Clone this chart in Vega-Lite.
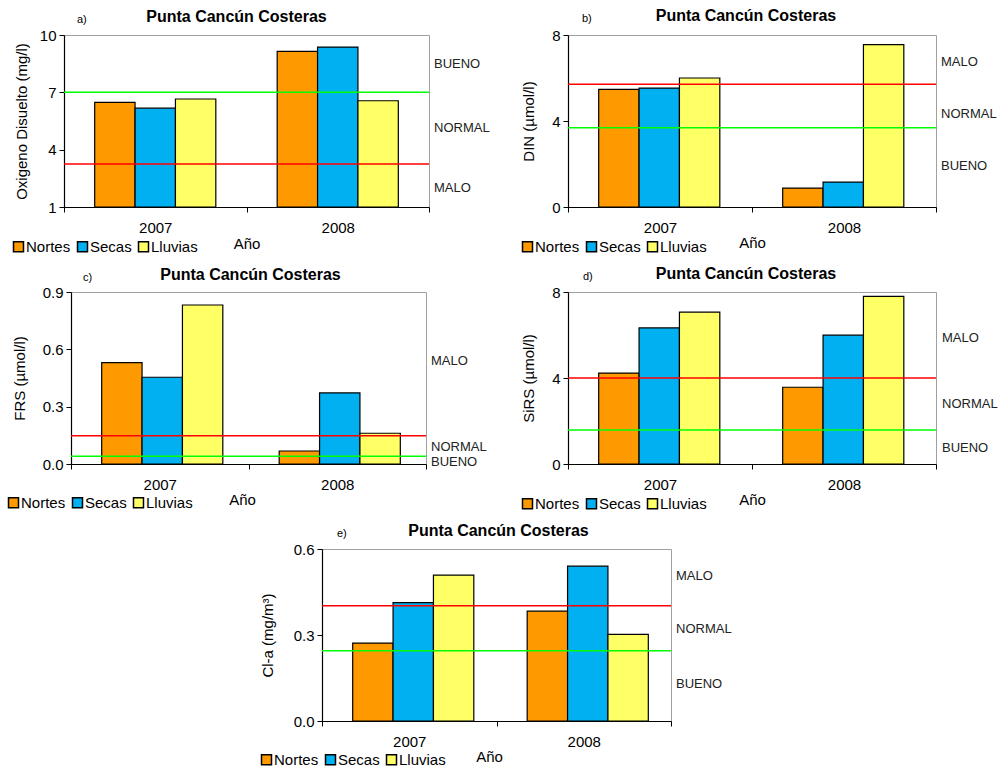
{
  "$schema": "https://vega.github.io/schema/vega-lite/v6.json",
  "padding": {"left": 4, "top": 7, "right": 0, "bottom": 0},
  "spacing": 9,
  "resolve": {"scale": {"color": "independent"}, "legend": {"color": "independent"}},
  "datasets": {
    "a_bars": [
      {"year": "2007", "season": "Nortes", "value": 6.47},
      {"year": "2007", "season": "Secas", "value": 6.17},
      {"year": "2007", "season": "Lluvias", "value": 6.65},
      {"year": "2008", "season": "Nortes", "value": 9.14},
      {"year": "2008", "season": "Secas", "value": 9.37},
      {"year": "2008", "season": "Lluvias", "value": 6.56}
    ],
    "a_rules": [{"v": 7.0, "c": "#00FF00"}, {"v": 3.25, "c": "#FF0000"}],
    "a_zones": [{"label": "BUENO", "v": 8.5}, {"label": "NORMAL", "v": 5.15}, {"label": "MALO", "v": 2.0}],
    "b_bars": [
      {"year": "2007", "season": "Nortes", "value": 5.47},
      {"year": "2007", "season": "Secas", "value": 5.53},
      {"year": "2007", "season": "Lluvias", "value": 6.0},
      {"year": "2008", "season": "Nortes", "value": 0.88},
      {"year": "2008", "season": "Secas", "value": 1.16},
      {"year": "2008", "season": "Lluvias", "value": 7.55}
    ],
    "b_rules": [{"v": 3.69, "c": "#00FF00"}, {"v": 5.71, "c": "#FF0000"}],
    "b_zones": [{"label": "MALO", "v": 6.76}, {"label": "NORMAL", "v": 4.31}, {"label": "BUENO", "v": 1.91}],
    "c_bars": [
      {"year": "2007", "season": "Nortes", "value": 0.53},
      {"year": "2007", "season": "Secas", "value": 0.454},
      {"year": "2007", "season": "Lluvias", "value": 0.832},
      {"year": "2008", "season": "Nortes", "value": 0.068},
      {"year": "2008", "season": "Secas", "value": 0.372},
      {"year": "2008", "season": "Lluvias", "value": 0.161}
    ],
    "c_rules": [{"v": 0.04, "c": "#00FF00"}, {"v": 0.148, "c": "#FF0000"}],
    "c_zones": [{"label": "MALO", "v": 0.537}, {"label": "NORMAL", "v": 0.089}, {"label": "BUENO", "v": 0.009}],
    "d_bars": [
      {"year": "2007", "season": "Nortes", "value": 4.23},
      {"year": "2007", "season": "Secas", "value": 6.33},
      {"year": "2007", "season": "Lluvias", "value": 7.06},
      {"year": "2008", "season": "Nortes", "value": 3.57},
      {"year": "2008", "season": "Secas", "value": 5.99},
      {"year": "2008", "season": "Lluvias", "value": 7.8}
    ],
    "d_rules": [{"v": 1.58, "c": "#00FF00"}, {"v": 4.0, "c": "#FF0000"}],
    "d_zones": [{"label": "MALO", "v": 5.85}, {"label": "NORMAL", "v": 2.8}, {"label": "BUENO", "v": 0.73}],
    "e_bars": [
      {"year": "2007", "season": "Nortes", "value": 0.272},
      {"year": "2007", "season": "Secas", "value": 0.413},
      {"year": "2007", "season": "Lluvias", "value": 0.509},
      {"year": "2008", "season": "Nortes", "value": 0.383},
      {"year": "2008", "season": "Secas", "value": 0.54},
      {"year": "2008", "season": "Lluvias", "value": 0.302}
    ],
    "e_rules": [{"v": 0.245, "c": "#00FF00"}, {"v": 0.402, "c": "#FF0000"}],
    "e_zones": [{"label": "MALO", "v": 0.505}, {"label": "NORMAL", "v": 0.32}, {"label": "BUENO", "v": 0.128}]
  },
  "vconcat": [
    {
      "bounds": "flush",
      "spacing": 0,
      "resolve": {"scale": {"color": "independent"}, "legend": {"color": "independent"}},
      "hconcat": [
        {"width": 60, "height": 172, "data": {"values": []}, "mark": {"type": "point"}, "encoding": {}},
        {
          "width": 365, "height": 172,
          "view": {"stroke": "#A0A0A0"},
          "title": {"text": "Punta Cancún Costeras", "dx": -10, "dy": 15},
          "layer": [
            {"data": {"name": "a_bars"}, "mark": {"type": "bar", "stroke": "black", "strokeWidth": 1.2},
             "encoding": {
               "x": {"field": "year", "type": "nominal", "scale": {"paddingInner": 0, "paddingOuter": 0}, "axis": {"title": "Año", "titleY": 36, "titleBaseline": "middle"}},
               "xOffset": {"field": "season", "type": "nominal", "sort": ["Nortes", "Secas", "Lluvias"], "scale": {"paddingInner": 0, "paddingOuter": 0.76}},
               "y": {"field": "value", "type": "quantitative", "scale": {"domain": [1, 10], "zero": false, "nice": false}, "axis": {"values": [1, 4, 7, 10], "title": "Oxigeno Disuelto (mg/l)", "titleX": -43, "titleBaseline": "middle"}},
               "y2": {"datum": 1},
               "color": {"field": "season", "type": "nominal", "scale": {"domain": ["Nortes", "Secas", "Lluvias"], "range": ["#FF9900", "#00B0F0", "#FFFF66"]}, "legend": {"title": null, "legendX": -53, "legendY": 204}}
             }},
            {"data": {"name": "a_rules"}, "mark": {"type": "rule", "strokeWidth": 1.5},
             "encoding": {"y": {"field": "v", "type": "quantitative"}, "stroke": {"field": "c", "type": "nominal", "scale": null}}},
            {"data": {"name": "a_zones"}, "mark": {"type": "text", "align": "left", "baseline": "middle", "dx": 5, "fontSize": 13, "color": "#222222"},
             "encoding": {"x": {"datum": "2008", "type": "nominal", "bandPosition": 1}, "y": {"field": "v", "type": "quantitative"}, "text": {"field": "label"}}},
            {"data": {"values": [{"t": "a)"}]}, "mark": {"type": "text", "align": "left", "baseline": "middle", "dx": 13, "dy": -15, "fontSize": 11},
             "encoding": {"x": {"datum": "2007", "type": "nominal", "bandPosition": 0}, "y": {"datum": 10, "type": "quantitative"}, "text": {"field": "t"}}}
          ]
        },
        {"width": 139, "height": 172, "data": {"values": []}, "mark": {"type": "point"}, "encoding": {}},
        {
          "width": 368, "height": 172,
          "view": {"stroke": "#A0A0A0"},
          "title": {"text": "Punta Cancún Costeras", "dx": -6, "dy": 15},
          "layer": [
            {"data": {"name": "b_bars"}, "mark": {"type": "bar", "stroke": "black", "strokeWidth": 1.2},
             "encoding": {
               "x": {"field": "year", "type": "nominal", "scale": {"paddingInner": 0, "paddingOuter": 0}, "axis": {"title": "Año", "titleY": 35, "titleBaseline": "middle"}},
               "xOffset": {"field": "season", "type": "nominal", "sort": ["Nortes", "Secas", "Lluvias"], "scale": {"paddingInner": 0, "paddingOuter": 0.76}},
               "y": {"field": "value", "type": "quantitative", "scale": {"domain": [0, 8], "nice": false}, "axis": {"values": [0, 4, 8], "title": "DIN (µmol/l)", "titleX": -40, "titleBaseline": "middle"}},
               "color": {"field": "season", "type": "nominal", "scale": {"domain": ["Nortes", "Secas", "Lluvias"], "range": ["#FF9900", "#00B0F0", "#FFFF66"]}, "legend": {"title": null, "legendX": -48, "legendY": 204}}
             }},
            {"data": {"name": "b_rules"}, "mark": {"type": "rule", "strokeWidth": 1.5},
             "encoding": {"y": {"field": "v", "type": "quantitative"}, "stroke": {"field": "c", "type": "nominal", "scale": null}}},
            {"data": {"name": "b_zones"}, "mark": {"type": "text", "align": "left", "baseline": "middle", "dx": 5, "fontSize": 13, "color": "#222222"},
             "encoding": {"x": {"datum": "2008", "type": "nominal", "bandPosition": 1}, "y": {"field": "v", "type": "quantitative"}, "text": {"field": "label"}}},
            {"data": {"values": [{"t": "b)"}]}, "mark": {"type": "text", "align": "left", "baseline": "middle", "dx": 14, "dy": -16, "fontSize": 11},
             "encoding": {"x": {"datum": "2007", "type": "nominal", "bandPosition": 0}, "y": {"datum": 8, "type": "quantitative"}, "text": {"field": "t"}}}
          ]
        }
      ]
    },
    {
      "bounds": "flush",
      "spacing": 0,
      "resolve": {"scale": {"color": "independent"}, "legend": {"color": "independent"}},
      "hconcat": [
        {"width": 67, "height": 172, "data": {"values": []}, "mark": {"type": "point"}, "encoding": {}},
        {
          "width": 355, "height": 172,
          "view": {"stroke": "#A0A0A0"},
          "title": {"text": "Punta Cancún Costeras", "dx": 2, "dy": 15},
          "layer": [
            {"data": {"name": "c_bars"}, "mark": {"type": "bar", "stroke": "black", "strokeWidth": 1.2},
             "encoding": {
               "x": {"field": "year", "type": "nominal", "scale": {"paddingInner": 0, "paddingOuter": 0}, "axis": {"title": "Año", "titleY": 35, "titleX": 171, "titleBaseline": "middle"}},
               "xOffset": {"field": "season", "type": "nominal", "sort": ["Nortes", "Secas", "Lluvias"], "scale": {"paddingInner": 0, "paddingOuter": 0.76}},
               "y": {"field": "value", "type": "quantitative", "scale": {"domain": [0, 0.9], "nice": false}, "axis": {"values": [0, 0.3, 0.6, 0.9], "format": ".1f", "title": "FRS (µmol/l)", "titleX": -52, "titleBaseline": "middle"}},
               "color": {"field": "season", "type": "nominal", "scale": {"domain": ["Nortes", "Secas", "Lluvias"], "range": ["#FF9900", "#00B0F0", "#FFFF66"]}, "legend": {"title": null, "legendX": -65, "legendY": 203}}
             }},
            {"data": {"name": "c_rules"}, "mark": {"type": "rule", "strokeWidth": 1.5},
             "encoding": {"y": {"field": "v", "type": "quantitative"}, "stroke": {"field": "c", "type": "nominal", "scale": null}}},
            {"data": {"name": "c_zones"}, "mark": {"type": "text", "align": "left", "baseline": "middle", "dx": 5, "fontSize": 13, "color": "#222222"},
             "encoding": {"x": {"datum": "2008", "type": "nominal", "bandPosition": 1}, "y": {"field": "v", "type": "quantitative"}, "text": {"field": "label"}}},
            {"data": {"values": [{"t": "c)"}]}, "mark": {"type": "text", "align": "left", "baseline": "middle", "dx": 12, "dy": -14, "fontSize": 11},
             "encoding": {"x": {"datum": "2007", "type": "nominal", "bandPosition": 0}, "y": {"datum": 0.9, "type": "quantitative"}, "text": {"field": "t"}}}
          ]
        },
        {"width": 142, "height": 172, "data": {"values": []}, "mark": {"type": "point"}, "encoding": {}},
        {
          "width": 368, "height": 172,
          "view": {"stroke": "#A0A0A0"},
          "title": {"text": "Punta Cancún Costeras", "dx": -6, "dy": 15},
          "layer": [
            {"data": {"name": "d_bars"}, "mark": {"type": "bar", "stroke": "black", "strokeWidth": 1.2},
             "encoding": {
               "x": {"field": "year", "type": "nominal", "scale": {"paddingInner": 0, "paddingOuter": 0}, "axis": {"title": "Año", "titleY": 35, "titleBaseline": "middle"}},
               "xOffset": {"field": "season", "type": "nominal", "sort": ["Nortes", "Secas", "Lluvias"], "scale": {"paddingInner": 0, "paddingOuter": 0.76}},
               "y": {"field": "value", "type": "quantitative", "scale": {"domain": [0, 8], "nice": false}, "axis": {"values": [0, 4, 8], "title": "SiRS  (µmol/l)", "titleX": -40, "titleBaseline": "middle"}},
               "color": {"field": "season", "type": "nominal", "scale": {"domain": ["Nortes", "Secas", "Lluvias"], "range": ["#FF9900", "#00B0F0", "#FFFF66"]}, "legend": {"title": null, "legendX": -48, "legendY": 204}}
             }},
            {"data": {"name": "d_rules"}, "mark": {"type": "rule", "strokeWidth": 1.5},
             "encoding": {"y": {"field": "v", "type": "quantitative"}, "stroke": {"field": "c", "type": "nominal", "scale": null}}},
            {"data": {"name": "d_zones"}, "mark": {"type": "text", "align": "left", "baseline": "middle", "dx": 6, "fontSize": 13, "color": "#222222"},
             "encoding": {"x": {"datum": "2008", "type": "nominal", "bandPosition": 1}, "y": {"field": "v", "type": "quantitative"}, "text": {"field": "label"}}},
            {"data": {"values": [{"t": "d)"}]}, "mark": {"type": "text", "align": "left", "baseline": "middle", "dx": 15, "dy": -15, "fontSize": 11},
             "encoding": {"x": {"datum": "2007", "type": "nominal", "bandPosition": 0}, "y": {"datum": 8, "type": "quantitative"}, "text": {"field": "t"}}}
          ]
        }
      ]
    },
    {
      "bounds": "flush",
      "spacing": 0,
      "resolve": {"scale": {"color": "independent"}, "legend": {"color": "independent"}},
      "hconcat": [
        {"width": 318, "height": 172, "data": {"values": []}, "mark": {"type": "point"}, "encoding": {}},
        {
          "width": 349, "height": 172,
          "view": {"stroke": "#A0A0A0"},
          "title": {"text": "Punta Cancún Costeras", "dx": 2, "dy": 15},
          "layer": [
            {"data": {"name": "e_bars"}, "mark": {"type": "bar", "stroke": "black", "strokeWidth": 1.2},
             "encoding": {
               "x": {"field": "year", "type": "nominal", "scale": {"paddingInner": 0, "paddingOuter": 0}, "axis": {"title": "Año", "titleY": 35, "titleX": 167, "titleBaseline": "middle"}},
               "xOffset": {"field": "season", "type": "nominal", "sort": ["Nortes", "Secas", "Lluvias"], "scale": {"paddingInner": 0, "paddingOuter": 0.76}},
               "y": {"field": "value", "type": "quantitative", "scale": {"domain": [0, 0.6], "nice": false}, "axis": {"values": [0, 0.3, 0.6], "format": ".1f", "title": "Cl-a  (mg/m³)", "titleX": -55, "titleBaseline": "middle"}},
               "color": {"field": "season", "type": "nominal", "scale": {"domain": ["Nortes", "Secas", "Lluvias"], "range": ["#FF9900", "#00B0F0", "#FFFF66"]}, "legend": {"title": null, "legendX": -63, "legendY": 203}}
             }},
            {"data": {"name": "e_rules"}, "mark": {"type": "rule", "strokeWidth": 1.5},
             "encoding": {"y": {"field": "v", "type": "quantitative"}, "stroke": {"field": "c", "type": "nominal", "scale": null}}},
            {"data": {"name": "e_zones"}, "mark": {"type": "text", "align": "left", "baseline": "middle", "dx": 5, "fontSize": 13, "color": "#222222"},
             "encoding": {"x": {"datum": "2008", "type": "nominal", "bandPosition": 1}, "y": {"field": "v", "type": "quantitative"}, "text": {"field": "label"}}},
            {"data": {"values": [{"t": "e)"}]}, "mark": {"type": "text", "align": "left", "baseline": "middle", "dx": 15, "dy": -15, "fontSize": 11},
             "encoding": {"x": {"datum": "2007", "type": "nominal", "bandPosition": 0}, "y": {"datum": 0.6, "type": "quantitative"}, "text": {"field": "t"}}}
          ]
        }
      ]
    }
  ],
  "config": {
    "font": "Liberation Sans",
    "view": {"stroke": null},
    "title": {"font": "Liberation Sans", "fontSize": 16, "fontWeight": "bold", "color": "black", "frame": "group", "anchor": "middle"},
    "axis": {"domainColor": "black", "tickColor": "black", "labelColor": "black", "titleColor": "black", "labelFont": "Liberation Sans", "titleFont": "Liberation Sans", "grid": false, "labelFontSize": 15, "titleFontSize": 15, "titleFontWeight": "normal", "tickSize": 5, "domainWidth": 1.2},
    "axisX": {"labelAngle": 0, "tickBand": "extent", "labelPadding": 8},
    "axisY": {"labelPadding": 3},
    "legend": {"orient": "none", "direction": "horizontal", "symbolType": "square", "symbolSize": 100, "symbolStrokeColor": "black", "symbolStrokeWidth": 1.5, "labelFontSize": 15, "labelColor": "black", "labelFont": "Liberation Sans", "labelOffset": 0, "columnPadding": 3, "symbolOpacity": 1},
    "text": {"font": "Liberation Sans"}
  }
}
